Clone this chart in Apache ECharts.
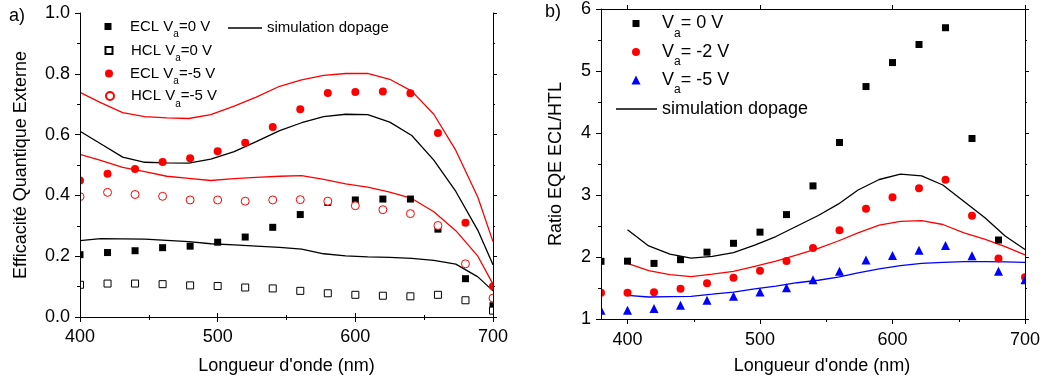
<!DOCTYPE html>
<html><head><meta charset="utf-8">
<script src="https://cdn.jsdelivr.net/npm/echarts@6/dist/echarts.min.js"></script>
<style>html,body{margin:0;padding:0;background:#fff}#c{width:1045px;height:383px}</style>
</head><body><div id="c"></div>
<script>
// ---------- Panel a) data ----------
const wlA = [400,420,440,460,480,500,520,540,560,580,600,620,640,660,680,700];
const eclA0 = [0.205,0.212,0.218,0.228,0.233,0.246,0.263,0.295,0.337,0.377,0.385,0.388,0.388,0.289,0.126,0.037];
const hclA0 = [0.106,0.110,0.110,0.108,0.104,0.102,0.097,0.094,0.086,0.078,0.073,0.070,0.068,0.073,0.055,0.021];
const eclA5 = [0.449,0.471,0.487,0.510,0.522,0.545,0.573,0.625,0.683,0.737,0.740,0.742,0.736,0.605,0.310,0.101];
const hclA5 = [0.396,0.410,0.403,0.397,0.385,0.385,0.381,0.385,0.386,0.381,0.366,0.353,0.340,0.301,0.175,0.062];
const simXA = [400,415,431,447,463,479,495,512,528,545,561,577,593,609,625,641,657,673,689,700];
const simEclA0 = [0.611,0.570,0.526,0.509,0.507,0.506,0.519,0.544,0.577,0.613,0.639,0.659,0.667,0.666,0.641,0.597,0.516,0.413,0.285,0.172];
const simHclA0 = [0.251,0.258,0.257,0.256,0.252,0.248,0.241,0.237,0.233,0.229,0.223,0.208,0.201,0.198,0.196,0.193,0.186,0.174,0.132,0.086];
const simEclA5 = [0.739,0.705,0.672,0.659,0.655,0.653,0.666,0.694,0.723,0.759,0.780,0.795,0.801,0.801,0.782,0.743,0.667,0.548,0.394,0.248];
const simHclA5 = [0.535,0.515,0.492,0.478,0.463,0.456,0.449,0.455,0.459,0.463,0.465,0.453,0.438,0.427,0.411,0.390,0.346,0.284,0.200,0.108];

// ---------- Panel b) data ----------
const wlB = [380,400,420,440,460,480,500,520,540,560,580,600,620,640,660,680];
const ratioB0 = [1.930,1.933,1.897,1.957,2.078,2.221,2.401,2.684,3.147,3.847,4.749,5.136,5.427,5.698,3.911,2.274];
const wlB2 = [380,400,420,440,460,480,500,520,540,560,580,600,620,640,660,680,700];
const ratioB2 = [1.425,1.425,1.430,1.488,1.578,1.664,1.780,1.934,2.146,2.433,2.778,2.964,3.107,3.245,2.667,1.977,1.674];
const ratioB5 = [1.143,1.143,1.170,1.223,1.303,1.366,1.435,1.505,1.632,1.770,1.951,2.024,2.110,2.184,2.019,1.770,1.632];
const simXB = [400,416,432,448,464,480,496,512,528,544,559,574,590,606,622,638,654,670,685,700];
const simB0 = [2.438,2.178,2.046,1.982,2.010,2.070,2.190,2.330,2.500,2.670,2.852,3.081,3.250,3.336,3.309,3.161,2.895,2.629,2.338,2.120];
const simB2 = [1.897,1.780,1.717,1.685,1.725,1.769,1.850,1.934,2.033,2.140,2.258,2.390,2.513,2.576,2.587,2.524,2.390,2.285,2.167,2.035];
const simB5 = [1.382,1.355,1.360,1.366,1.400,1.435,1.485,1.530,1.585,1.625,1.674,1.743,1.807,1.860,1.897,1.913,1.924,1.924,1.920,1.913];

// ---------- ticks ----------
const xLabelsB = [400,500,600,700];
const xMinorB = [450,550,650];

const zip = (xs, ys) => xs.map((x, i) => [x, ys[i]]);
const FONT = '"Liberation Sans", Arial, Helvetica, sans-serif';
const GA = {left: 80, top: 13, width: 413, height: 304};
const GB = {left: 601, top: 5, width: 424, height: 314};
const BLACK = '#000', RED = '#ff0000', BLUE = '#0000ff';

const axLine = {show: true, lineStyle: {color: BLACK, width: 1}};
const lbl = (m, extra) => Object.assign({color: BLACK, fontSize: 18, fontFamily: FONT, margin: m}, extra || {});

const xAxes = [
  {gridIndex: 0, type: 'value', min: 400, max: 700, interval: 100, position: 'bottom', z: 100,
   axisLine: axLine, axisTick: {show: true, length: 5, lineStyle: {color: BLACK}},
   minorTick: {show: true, splitNumber: 2, length: 3, lineStyle: {color: BLACK}},
   axisLabel: lbl(11), splitLine: {show: false},
   name: "Longueur d'onde (nm)", nameLocation: 'middle', nameGap: 40,
   nameTextStyle: {color: BLACK, fontSize: 18, fontFamily: FONT}},
  {gridIndex: 0, type: 'value', min: 400, max: 700, interval: 100, position: 'top', z: 100,
   axisLine: axLine, axisTick: {show: true, length: 4, lineStyle: {color: BLACK}},
   minorTick: {show: true, splitNumber: 2, length: 2, lineStyle: {color: BLACK}},
   axisLabel: {show: false}, splitLine: {show: false}},
  {gridIndex: 1, type: 'value', min: 380, max: 700, position: 'bottom', z: 100,
   axisLine: axLine, axisTick: {show: true, length: 5, customValues: xLabelsB, lineStyle: {color: BLACK}},
   axisLabel: lbl(12, {customValues: xLabelsB}), splitLine: {show: false},
   name: "Longueur d'onde (nm)", nameLocation: 'middle', nameGap: 38,
   nameTextStyle: {color: BLACK, fontSize: 18, fontFamily: FONT, padding: [0, 0, 0, 18]}},
  {gridIndex: 1, type: 'value', min: 380, max: 700, position: 'bottom', z: 100,
   axisLine: {show: false}, axisTick: {show: true, length: 3, customValues: xMinorB, lineStyle: {color: BLACK}},
   axisLabel: {show: false}, splitLine: {show: false}},
  {gridIndex: 1, type: 'value', min: 380, max: 700, position: 'top', z: 100,
   axisLine: axLine, axisTick: {show: true, length: 4, customValues: xLabelsB, lineStyle: {color: BLACK}},
   axisLabel: {show: false}, splitLine: {show: false}}
];

const yAxes = [
  {gridIndex: 0, type: 'value', min: 0, max: 1, interval: 0.2, position: 'left', z: 100,
   axisLine: axLine, axisTick: {show: true, length: 5, lineStyle: {color: BLACK}},
   minorTick: {show: true, splitNumber: 2, length: 3, lineStyle: {color: BLACK}},
   axisLabel: lbl(10, {formatter: v => v.toFixed(1)}), splitLine: {show: false},
   name: 'Efficacité Quantique Externe', nameLocation: 'middle', nameGap: 50,
   nameTextStyle: {color: BLACK, fontSize: 18, fontFamily: FONT}},
  {gridIndex: 0, type: 'value', min: 0, max: 1, interval: 0.2, position: 'right', z: 100,
   axisLine: axLine, axisTick: {show: true, length: 4, lineStyle: {color: BLACK}},
   minorTick: {show: true, splitNumber: 2, length: 2, lineStyle: {color: BLACK}},
   axisLabel: {show: false}, splitLine: {show: false}},
  {gridIndex: 1, type: 'value', min: 1, max: 6, interval: 1, position: 'left', z: 100,
   axisLine: axLine, axisTick: {show: true, length: 5, lineStyle: {color: BLACK}},
   minorTick: {show: true, splitNumber: 2, length: 3, lineStyle: {color: BLACK}},
   axisLabel: lbl(10), splitLine: {show: false},
   name: 'Ratio EQE ECL/HTL', nameLocation: 'middle', nameGap: 36,
   nameTextStyle: {color: BLACK, fontSize: 18, fontFamily: FONT}},
  {gridIndex: 1, type: 'value', min: 1, max: 6, interval: 1, position: 'right', z: 100,
   axisLine: axLine, axisTick: {show: true, length: 4, lineStyle: {color: BLACK}},
   minorTick: {show: true, splitNumber: 2, length: 2, lineStyle: {color: BLACK}},
   axisLabel: {show: false}, splitLine: {show: false}}
];

const lineS = (name, xs, ys, color, xi, yi) => ({
  type: 'line', name, data: zip(xs, ys), xAxisIndex: xi, yAxisIndex: yi,
  symbol: 'none', smooth: false, lineStyle: {color, width: 1.3}, itemStyle: {color}, z: 2
});
const scat = (name, xs, ys, symbol, size, fill, stroke, xi, yi) => ({
  type: 'scatter', name, data: zip(xs, ys), xAxisIndex: xi, yAxisIndex: yi,
  symbol, symbolSize: size, itemStyle: {color: fill, borderColor: stroke, borderWidth: fill === '#fff' ? 1 : 0, opacity: 1}, z: 3
});

const SIM = 'simulation dopage';
const series = [
  lineS(SIM, simXA, simEclA0, BLACK, 0, 0),
  lineS(SIM, simXA, simHclA0, BLACK, 0, 0),
  lineS('sim -5 V', simXA, simEclA5, RED, 0, 0),
  lineS('sim -5 V', simXA, simHclA5, RED, 0, 0),
  scat('ECL Va=0 V', wlA, eclA0, 'rect', 7, BLACK, BLACK, 0, 0),
  scat('HCL Va=0 V', wlA, hclA0, 'rect', 7, '#fff', BLACK, 0, 0),
  scat('ECL Va=-5 V', wlA, eclA5, 'circle', 8, RED, RED, 0, 0),
  scat('HCL Va=-5 V', wlA, hclA5, 'circle', 8, '#fff', RED, 0, 0),
  lineS(SIM, simXB, simB0, BLACK, 2, 2),
  lineS('sim -2 V', simXB, simB2, RED, 2, 2),
  lineS('sim -5 V b', simXB, simB5, BLUE, 2, 2),
  scat('Va= 0 V', wlB, ratioB0, 'rect', 7, BLACK, BLACK, 2, 2),
  scat('Va= -2 V', wlB2, ratioB2, 'circle', 8, RED, RED, 2, 2),
  scat('Va= -5 V', wlB2, ratioB5, 'triangle', 9, BLUE, BLUE, 2, 2)
];

const subFmt = n => n.replace('Va', 'V{s|a}');
// symbol legend entry: centre (cx) of the symbol and x where its text starts
const legSym = (name, icon, size, cx, textX, top, fs, sub, subPad) => ({
  data: [{name, icon}], left: cx - size / 2, top, orient: 'vertical', padding: 0, itemGap: 0, selectedMode: false,
  itemWidth: size, itemHeight: size, formatter: subFmt,
  textStyle: {color: BLACK, fontSize: fs, fontFamily: FONT, padding: [0, 0, 0, textX - (cx + size / 2 + 5)],
    rich: {s: {fontSize: sub, fontFamily: FONT, color: BLACK, padding: [subPad, 0, 0, 0]}}}
});
const legLine = (name, x0, w, top, fs) => ({
  data: [{name, icon: 'rect'}], left: x0, top, orient: 'vertical', padding: 0, itemGap: 0, selectedMode: false,
  itemWidth: w, itemHeight: 1.3, itemStyle: {color: BLACK},
  textStyle: {color: BLACK, fontSize: fs, fontFamily: FONT}
});
const legend = [
  legSym('ECL Va=0 V', 'rect', 7, 108, 130, 19, 15, 10, 16),
  legSym('HCL Va=0 V', 'rect', 7, 108, 130, 43, 15, 10, 16),
  legSym('ECL Va=-5 V', 'circle', 8, 109, 130, 66, 15, 10, 16),
  legSym('HCL Va=-5 V', 'circle', 8, 109, 130, 88.5, 15, 10, 16),
  legLine(SIM, 228, 34, 20.5, 15),
  legSym('Va= 0 V', 'rect', 7, 636, 662, 14.5, 18, 12, 20),
  legSym('Va= -2 V', 'circle', 8, 636, 662, 43, 18, 12, 20),
  legSym('Va= -5 V', 'triangle', 9, 636, 662, 71, 18, 12, 20),
  legLine(SIM, 616, 41, 100, 18)
];

// white masks clipping half-markers outside the plot frames
const mask = (x, y, w, h) => ({type: 'rect', shape: {x, y, width: w, height: h}, style: {fill: '#fff'}, z: 50, silent: true});
const graphic = [
  mask(GA.left - 8, GA.top, 8, GA.height),
  mask(GA.left + GA.width, GA.top, 8, GA.height),
  mask(GB.left - 8, GB.top, 8, GB.height),
  mask(GB.left + GB.width, GB.top, 8, GB.height),
  {type: 'text', x: 9, y: 16, z: 60, style: {text: 'a)', fontSize: 18, fontFamily: FONT, fill: BLACK, verticalAlign: 'middle'}},
  {type: 'text', x: 545, y: 12, z: 60, style: {text: 'b)', fontSize: 18, fontFamily: FONT, fill: BLACK, verticalAlign: 'middle'}}
];

const chart = echarts.init(document.getElementById('c'), null, {renderer: 'canvas'});
chart.setOption({
  animation: false,
  backgroundColor: '#fff',
  textStyle: {fontFamily: FONT},
  grid: [
    Object.assign({containLabel: false}, GA),
    Object.assign({containLabel: false}, GB)
  ],
  xAxis: xAxes,
  yAxis: yAxes,
  legend,
  graphic,
  series
});
</script>
</body></html>
